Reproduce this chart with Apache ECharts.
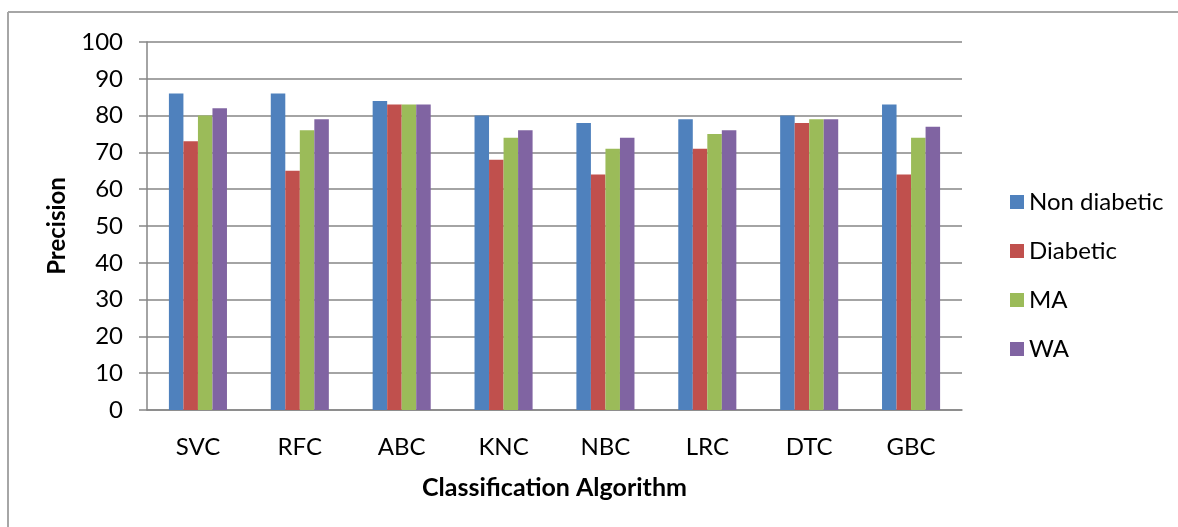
<!DOCTYPE html>
<html>
<head>
<meta charset="utf-8">
<script src="https://cdn.jsdelivr.net/npm/echarts@6/dist/echarts.min.js"></script>
<style>
html,body{margin:0;padding:0;background:#fff;}
#chart{width:1178px;height:527px;}
</style>
</head>
<body>
<div id="chart"></div>
<script>
const categories = ['SVC','RFC','ABC','KNC','NBC','LRC','DTC','GBC'];
const seriesNames = ['Non diabetic','Diabetic','MA','WA'];
const nonDiabetic = [86, 86, 84, 80, 78, 79, 80, 83];
const diabetic    = [73, 65, 83, 68, 64, 71, 78, 64];
const ma          = [80, 76, 83, 74, 71, 75, 79, 74];
const wa          = [82, 79, 83, 76, 74, 76, 79, 77];
const yTicks = [0,10,20,30,40,50,60,70,80,90,100];
const colors = ['#4F81BD','#C0504D','#9BBB59','#8064A2'];

const FONT = 'Lato, "Open Sans", sans-serif';
const allData = [nonDiabetic, diabetic, ma, wa];

const chart = echarts.init(document.getElementById('chart'), null, {renderer:'canvas'});
chart.setOption({
  animation: false,
  backgroundColor: '#fff',
  textStyle: { fontFamily: FONT },
  graphic: [
    { type:'line', shape:{x1:8,y1:12,x2:8,y2:527}, style:{stroke:'#a6a6a6', lineWidth:2} },
    { type:'line', shape:{x1:8,y1:12,x2:1178,y2:12}, style:{stroke:'#a6a6a6', lineWidth:2} }
  ],
  grid: { left:147, right:216, top:42, bottom:117, containLabel:false },
  legend: {
    orient:'vertical',
    left:1005, top:185,
    itemWidth:14, itemHeight:14, itemGap:25,
    icon:'rect',
    textStyle:{ fontFamily:FONT, fontSize:24, color:'#000', lineHeight:24 },
    data: seriesNames
  },
  xAxis: {
    type:'category',
    data: categories,
    name:'Classification Algorithm',
    nameLocation:'middle',
    nameGap:65,
    nameTextStyle:{ fontFamily:FONT, fontSize:25, fontWeight:'bold', color:'#000' },
    axisLine:{ lineStyle:{ color:'#868686', width:1.5 } },
    axisTick:{ show:false },
    axisLabel:{ fontFamily:FONT, fontSize:24, color:'#000', margin:25 }
  },
  yAxis: {
    type:'value',
    min: yTicks[0], max: yTicks[yTicks.length-1], interval:10,
    name:'Precision',
    nameLocation:'middle',
    nameGap:78,
    nameRotate:90,
    nameTextStyle:{ fontFamily:FONT, fontSize:24, fontWeight:'bold', color:'#000' },
    axisLine:{ show:true, lineStyle:{ color:'#868686', width:1.5 } },
    axisTick:{ show:true, length:8, lineStyle:{ color:'#868686', width:1.5 } },
    splitLine:{ lineStyle:{ color:'#868686', width:1.5 } },
    axisLabel:{ fontFamily:FONT, fontSize:24, color:'#000', margin:24 }
  },
  series: seriesNames.map((n,i)=>({
    name:n, type:'bar', data: allData[i],
    barGap:'0%', barCategoryGap:'43%',
    itemStyle:{ color: colors[i] }
  }))
});
</script>
</body>
</html>
